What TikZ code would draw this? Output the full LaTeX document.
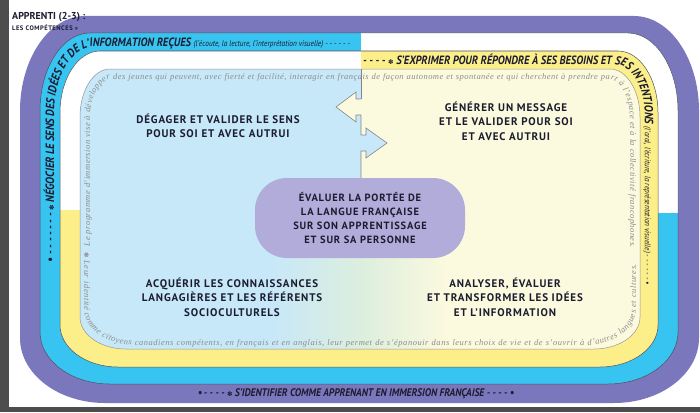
\documentclass[tikz,border=0pt]{standalone}
\usepackage{fontspec}
\setmainfont{PT Sans}
\newfontfamily\bandfnt[FakeStretch=0.88]{PT Sans}
\newfontfamily\quadfnt[LetterSpace=8]{PT Sans}
\newfontfamily\notefnt{Liberation Serif}
\newfontfamily\symfnt{DejaVu Sans}
\usepackage{tikz}
\usetikzlibrary{positioning,decorations.text}
\usepackage{xcolor}
\definecolor{stripgrey}{RGB}{77,77,77}
\definecolor{bandpurple}{RGB}{123,119,189}
\definecolor{bandblue}{RGB}{56,196,240}
\definecolor{bandyellow}{RGB}{252,239,138}
\definecolor{innerblue}{RGB}{199,232,249}
\definecolor{inneryellow}{RGB}{252,250,222}
\definecolor{innermix}{RGB}{220,238,222}
\definecolor{evalfill}{RGB}{178,172,218}
\definecolor{inkdark}{RGB}{28,28,48}
\definecolor{notegrey}{RGB}{140,140,140}
\definecolor{edgegrey}{RGB}{80,80,90}
\pgfdeclarehorizontalshading{innerfill}{100bp}{color(0bp)=(innerblue); color(42bp)=(innerblue); color(50bp)=(innermix); color(58bp)=(inneryellow); color(100bp)=(inneryellow)}

\newcommand\bandcaps{\bandfnt\bfseries\itshape\fontsize{12}{14}\selectfont}
\newcommand\bandsmall{\bandfnt\mdseries\itshape\fontsize{8.3}{10}\selectfont}
\newcommand\bandsym{\symfnt\mdseries\upshape\fontsize{6.5}{8}\selectfont}
\newcommand\notestyle{\notefnt\itshape\fontsize{8.5}{10}\selectfont}
% rounded box: x1 y1 x2 y2, top corner rx ry, bottom corner rx ry
\newcommand\ringshape[8]{({#1+#5},#2) -- ({#3-#5},#2)
  .. controls ({#3-0.448*#5},#2) and (#3,{#2+0.448*#6}) .. (#3,{#2+#6})
  -- (#3,{#4-#8})
  .. controls (#3,{#4-0.448*#8}) and ({#3-0.448*#7},#4) .. ({#3-#7},#4)
  -- ({#1+#7},#4)
  .. controls ({#1+0.448*#7},#4) and (#1,{#4-0.448*#8}) .. (#1,{#4-#8})
  -- (#1,{#2+#6})
  .. controls (#1,{#2+0.448*#6}) and ({#1+0.448*#5},#2) .. ({#1+#5},#2) -- cycle}
\newcommand\arrowpts{(361,99) -- (356,99) -- (356,92) -- (336,107) -- (356,122) -- (356,115) -- (361,115)
  -- (361,135) -- (366,135) -- (366,128) -- (387,143) -- (366,158) -- (366,151) -- (361,151)}

\tikzset{
  quadlabel/.style={font=\quadfnt\bfseries\fontsize{11}{14.5}\selectfont, text=inkdark, align=center, inner sep=0pt},
  evalbox/.style={fill=evalfill, rounded corners=32pt, minimum width=210pt, minimum height=80pt,
    align=center, text=inkdark, font=\quadfnt\bfseries\fontsize{10.5}{14}\selectfont},
  bandline/.style={draw=edgegrey, line width=0.5pt},
  divline/.style={draw=edgegrey!70, line width=0.6pt},
  titletext/.style={font=\bfseries\fontsize{10}{11}\selectfont, text=inkdark, inner sep=0pt},
  skilltext/.style={font=\quadfnt\bfseries\fontsize{6.5}{7}\selectfont, text=inkdark, inner sep=0pt},
  alongband/.style={decorate, decoration={text along path, text color=inkdark, text={#1}}},
  alongnote/.style={decorate, decoration={text along path, text color=notegrey, text align={fit to path}, text={#1}}}
}

\begin{document}
\begin{tikzpicture}[x=1pt, y=-1pt]
\useasboundingbox (0,0) rectangle (700,412);
\fill[white] (0,0) rectangle (700,412);
\fill[stripgrey] (0,0) rectangle (8.5,412);
\fill[stripgrey] (0,406.5) rectangle (700,412);

% outer bands
\fill[bandpurple] \ringshape{20}{16}{699}{403}{65}{95}{85}{65};
\fill[bandblue] \ringshape{40}{33}{678}{384}{50}{78}{70}{52};
\begin{scope}
  \clip \ringshape{40}{33}{678}{384}{50}{78}{70}{52};
  \fill[white] (361,0) rectangle (700,213);
\end{scope}
\draw[bandline] \ringshape{40}{33}{678}{384}{50}{78}{70}{52};
\fill[bandyellow] \ringshape{60}{51}{658}{367}{40}{62}{58}{42};
\begin{scope}
  \clip \ringshape{60}{51}{658}{367}{40}{62}{58}{42};
  \fill[white] (0,0) rectangle (361,210);
\end{scope}
\draw[bandline] \ringshape{60}{51}{658}{367}{40}{62}{58}{42};

% inner field
\shade[shading=innerfill] \ringshape{80}{69}{640}{349}{30}{48}{46}{32};
\begin{scope}
  \clip \ringshape{80}{69}{640}{349}{30}{48}{46}{32};
  \fill[innerblue] \arrowpts -- (361,218) -- (0,218) -- (0,60) -- (361,60) -- cycle;
  \fill[inneryellow] \arrowpts -- (361,218) -- (700,218) -- (700,60) -- (361,60) -- cycle;
\end{scope}
\draw[bandline, draw=edgegrey!60] \ringshape{80}{69}{640}{349}{30}{48}{46}{32};
\draw[divline] (361,69) -- (361,99);
\draw[divline] \arrowpts -- (361,178);

% band texts
\path[alongband={|\bandcaps|• - - - - - - - |\bandsym|✽|\bandcaps| NÉGOCIER LE SENS DES IDÉES ET DE L’INFORMATION REÇUES |\bandsmall|(l’écoute, la lecture, l’interprétation visuelle) - - - - - -}]
  (54.2,262) -- (54.2,112) .. controls (54.2,{46.2+0.448*65.8}) and ({54.2+0.448*41},46.2) .. (95,46.2) -- (360,46.2);
\path[alongband={|\bandcaps|- - - - |\bandsym|✽|\bandcaps| S’EXPRIMER POUR RÉPONDRE À SES BESOINS ET SES INTENTIONS |\bandsmall|(l’oral, l’écriture, la représentation visuelle) - - - - - - •}]
  (363,64.2) -- (614,64.2) .. controls ({614+0.552*30.8},64.2) and (644.8,{115-0.552*50.8}) .. (644.8,115) -- (644.8,300);
\node[font=\bandcaps\fontsize{11}{13}\selectfont, text=inkdark] (idlabel) at (356,393.5)
  {•\,- - - - {\bandsym ✽} S’IDENTIFIER COMME APPRENANT EN IMMERSION FRANÇAISE - - - - •};

% grey mission text
\path[alongnote={|\notestyle|Le programme d’immersion vise à développer des jeunes qui peuvent, avec fierté et facilité, interagir en français de façon autonome et spontanée et qui cherchent à prendre part à l’espace et à la collectivité francophones.}]
  (90,246) -- (90,119) .. controls (90,{79+0.448*40}) and ({90+0.448*22},79) .. (112,79) -- (608,79)
  .. controls ({630-0.448*22},79) and (630,{79+0.448*40}) .. (630,119) -- (630,248);
\path[alongnote={|\bandsym\color{notegrey}|✽|\notestyle| Leur identité comme citoyens canadiens compétents, en français et en anglais, leur permet de s’épanouir dans leurs choix de vie et de s’ouvrir à d’autres langues et cultures.}]
  (84,252) -- (84,309) .. controls (84,{345-0.448*36}) and ({84+0.448*50},345) .. (134,345) -- (586,345)
  .. controls ({636-0.448*50},345) and (636,{345-0.448*36}) .. (636,309) -- (636,264);

% skills
\node[quadlabel] (sens) at (218,126) {DÉGAGER ET VALIDER LE SENS\\POUR SOI ET AVEC AUTRUI};
\node[quadlabel] (message) at (506,121) {GÉNÉRER UN MESSAGE\\ET LE VALIDER POUR SOI\\ET AVEC AUTRUI};
\node[quadlabel] (savoirs) at (232,297) {ACQUÉRIR LES CONNAISSANCES\\LANGAGIÈRES ET LES RÉFÉRENTS\\SOCIOCULTURELS};
\node[quadlabel] (analyse) at (505,297) {ANALYSER, ÉVALUER\\ET TRANSFORMER LES IDÉES\\ET L’INFORMATION};
\node[evalbox] (portee) at (360,218) {ÉVALUER LA PORTÉE DE\\LA LANGUE FRANÇAISE\\SUR SON APPRENTISSAGE\\ET SUR SA PERSONNE};

% title
\node[titletext, anchor=west] (level) at (12,17) {APPRENTI (2-3) :};
\node[skilltext, below right=2.5pt and 0pt of level.south west] (skills) {LES COMPÉTENCES »};
\end{tikzpicture}
\end{document}
